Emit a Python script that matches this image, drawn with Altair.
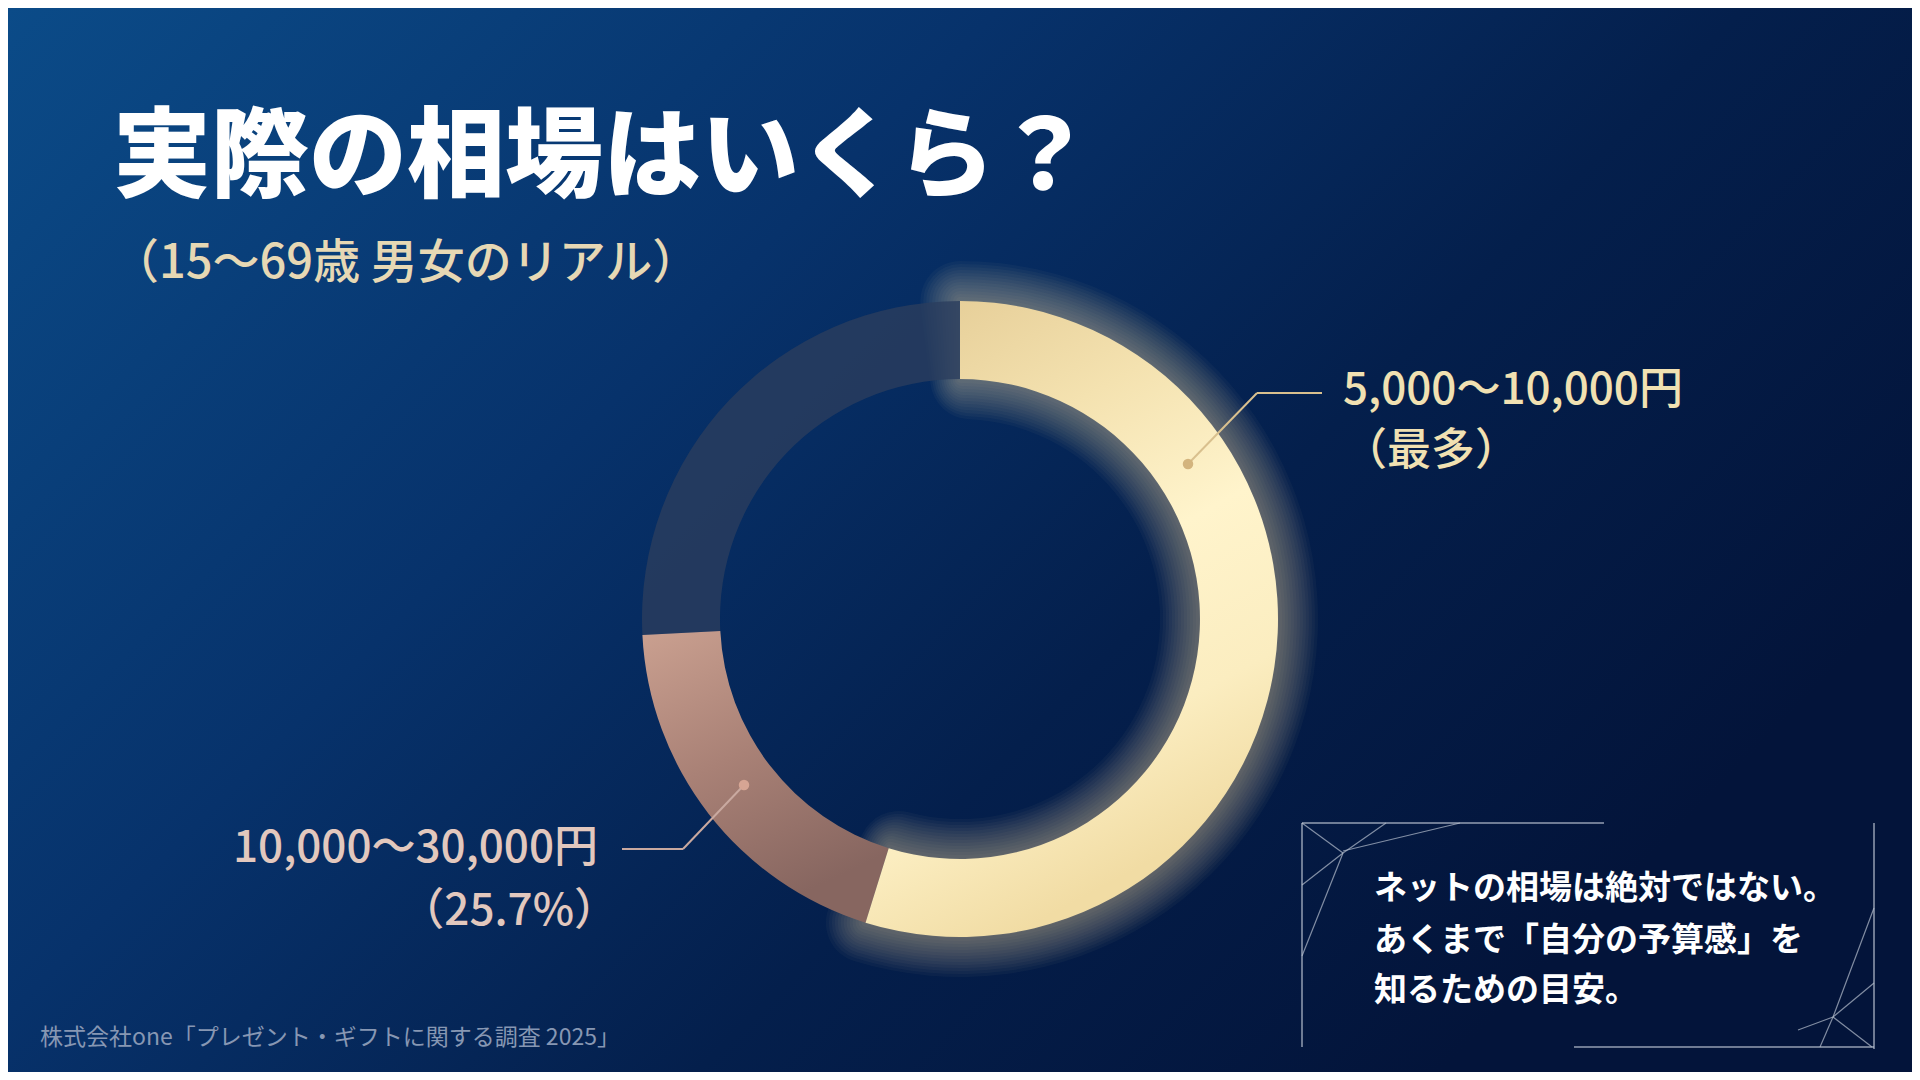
import altair as alt
import pandas as pd

# ---- data ----
categories = ["5,000〜10,000円", "10,000〜30,000円", "その他"]
shares = [54.8, 19.4, 25.8]
order = [1, 2, 3]

title_text = "実際の相場はいくら？"
subtitle_text = "（15〜69歳 男女のリアル）"
label_gold = ["5,000〜10,000円", "（最多）"]
label_rose = ["10,000〜30,000円", "（25.7%）"]
note_lines = ["ネットの相場は絶対ではない。", "あくまで「自分の予算感」を", "知るための目安。"]
source_text = "株式会社one「プレゼント・ギフトに関する調査 2025」"

W, H = 1904, 1064
CX, CY = 952, 611
R_OUT, R_IN = 318, 240
FONT = "Noto Sans CJK JP"

df = pd.DataFrame({"cat": categories, "share": shares, "ord": order})
base = alt.Chart(df).transform_joinaggregate(
    total="sum(share)"
).transform_window(
    cum="sum(share)", sort=[alt.SortField("ord")], frame=[None, 0]
).transform_calculate(
    t0="(datum.cum - datum.share) / datum.total * 2 * PI",
    t1="datum.cum / datum.total * 2 * PI",
)

one = alt.Data(values=[{"k": 1}])

# background
bg = alt.Chart(one).mark_rect(
    color=alt.Gradient(
        gradient="linear", x1=0, y1=0, x2=1, y2=0.55,
        stops=[alt.GradientStop(color="#0b4b88", offset=0),
               alt.GradientStop(color="#07326b", offset=0.4),
               alt.GradientStop(color="#041f4c", offset=0.7),
               alt.GradientStop(color="#03143a", offset=1)],
    )
).encode(x=alt.value(0), x2=alt.value(W), y=alt.value(0), y2=alt.value(H))


def seg(cat, **mk):
    return base.transform_filter(alt.datum.cat == cat).mark_arc(**mk).encode(
        theta=alt.Theta("t0:Q", scale=None),
        theta2="t1:Q",
        x=alt.value(CX), y=alt.value(CY),
    )


def glow(cat, g, op):
    return base.transform_filter(alt.datum.cat == cat).transform_calculate(
        a0=f"datum.t0 - {g}/320", a1=f"datum.t1 + {g}/320"
    ).mark_arc(
        radius=R_OUT + g, radius2=max(R_IN - g, 0), color="#ffe4a0",
        opacity=op, cornerRadius=g,
    ).encode(
        theta=alt.Theta("a0:Q", scale=None), theta2="a1:Q",
        x=alt.value(CX), y=alt.value(CY),
    )


glows = [glow(categories[0], g, 0.035) for g in range(40, 0, -3)]

dark = seg(categories[2], radius=R_OUT, radius2=R_IN, color="#2a3d5e", opacity=0.8)
rose = seg(categories[1], radius=R_OUT, radius2=R_IN, color=alt.Gradient(
    gradient="linear", x1=0, y1=0, x2=0.4, y2=1,
    stops=[alt.GradientStop(color="#caa090", offset=0),
           alt.GradientStop(color="#a98176", offset=0.5),
           alt.GradientStop(color="#876660", offset=1)]))
gold = seg(categories[0], radius=R_OUT, radius2=R_IN, color=alt.Gradient(
    gradient="linear", x1=0, y1=0, x2=0.35, y2=1,
    stops=[alt.GradientStop(color="#e3ca93", offset=0),
           alt.GradientStop(color="#f4e2b0", offset=0.3),
           alt.GradientStop(color="#fff4cc", offset=0.55),
           alt.GradientStop(color="#fbedc0", offset=0.8),
           alt.GradientStop(color="#f1dca4", offset=1)]))


def rule(x1, y1, x2, y2, color, width=1.6, op=1.0):
    return alt.Chart(one).mark_rule(color=color, strokeWidth=width, opacity=op).encode(
        x=alt.value(x1), y=alt.value(y1), x2=alt.value(x2), y2=alt.value(y2))


def dot(x, y, color):
    return alt.Chart(one).mark_circle(color=color, size=110, opacity=1).encode(
        x=alt.value(x), y=alt.value(y))


def text(s, x, y, size, color, weight="normal", align="left", op=1.0):
    return alt.Chart(one).mark_text(
        text=s, font=FONT, fontSize=size, fontWeight=weight, color=color,
        align=align, baseline="middle", opacity=op,
    ).encode(x=alt.value(x), y=alt.value(y))


gold_c = "#d9c08e"
rose_c = "#c9a9a0"
leaders = [
    rule(1180, 456, 1249, 385, gold_c, 2), rule(1249, 385, 1314, 385, gold_c, 2), dot(1180, 456, "#d3b47e"),
    rule(736, 777, 675, 841, rose_c, 2), rule(675, 841, 614, 841, rose_c, 2), dot(736, 777, "#d6a594"),
]

frame_c = "#b8c0cf"
frame = [
    rule(1294, 815, 1596, 815, frame_c, 1.5, 0.8),
    rule(1294, 815, 1294, 1039, frame_c, 1.5, 0.8),
    rule(1866, 815, 1866, 1041, frame_c, 1.5, 0.8),
    rule(1566, 1039, 1866, 1039, frame_c, 1.5, 0.8),
    rule(1294, 815, 1335, 845, frame_c, 1.2, 0.7),
    rule(1378, 815, 1335, 845, frame_c, 1.2, 0.7),
    rule(1452, 815, 1335, 843, frame_c, 1.2, 0.7),
    rule(1335, 845, 1294, 877, frame_c, 1.2, 0.7),
    rule(1335, 845, 1294, 948, frame_c, 1.2, 0.7),
    rule(1866, 900, 1825, 1009, frame_c, 1.2, 0.7),
    rule(1866, 975, 1825, 1009, frame_c, 1.2, 0.7),
    rule(1825, 1009, 1864, 1039, frame_c, 1.2, 0.7),
    rule(1825, 1009, 1790, 1022, frame_c, 1.2, 0.7),
    rule(1825, 1009, 1812, 1039, frame_c, 1.2, 0.7),
]

texts = [
    text(title_text, 105, 152, 98, "#ffffff", 900),
    text(subtitle_text, 104, 256, 47, "#e6d8b4", 500),
    text(label_gold[0], 1335, 383, 44, "#f1e1b2", 500),
    text(label_gold[1], 1335, 444, 44, "#f1e1b2", 500),
    text(label_rose[0], 590, 841, 44, "#e2c8be", 500, align="right"),
    text(label_rose[1], 610, 904, 44, "#e2c8be", 500, align="right"),
    text(note_lines[0], 1366, 881, 33, "#ffffff", "bold"),
    text(note_lines[1], 1366, 933, 33, "#ffffff", "bold"),
    text(note_lines[2], 1366, 983, 33, "#ffffff", "bold"),
    text(source_text, 32, 1030, 23, "#8797b3"),
]

chart = alt.layer(bg, *glows, dark, rose, gold, *leaders, *frame, *texts).properties(
    width=W, height=H, padding=0, autosize=alt.AutoSizeParams(type="none"),
    background="#062a5c",
).configure_view(stroke=None)

chart.save("out.html", embed_options={"renderer": "svg", "actions": False})
